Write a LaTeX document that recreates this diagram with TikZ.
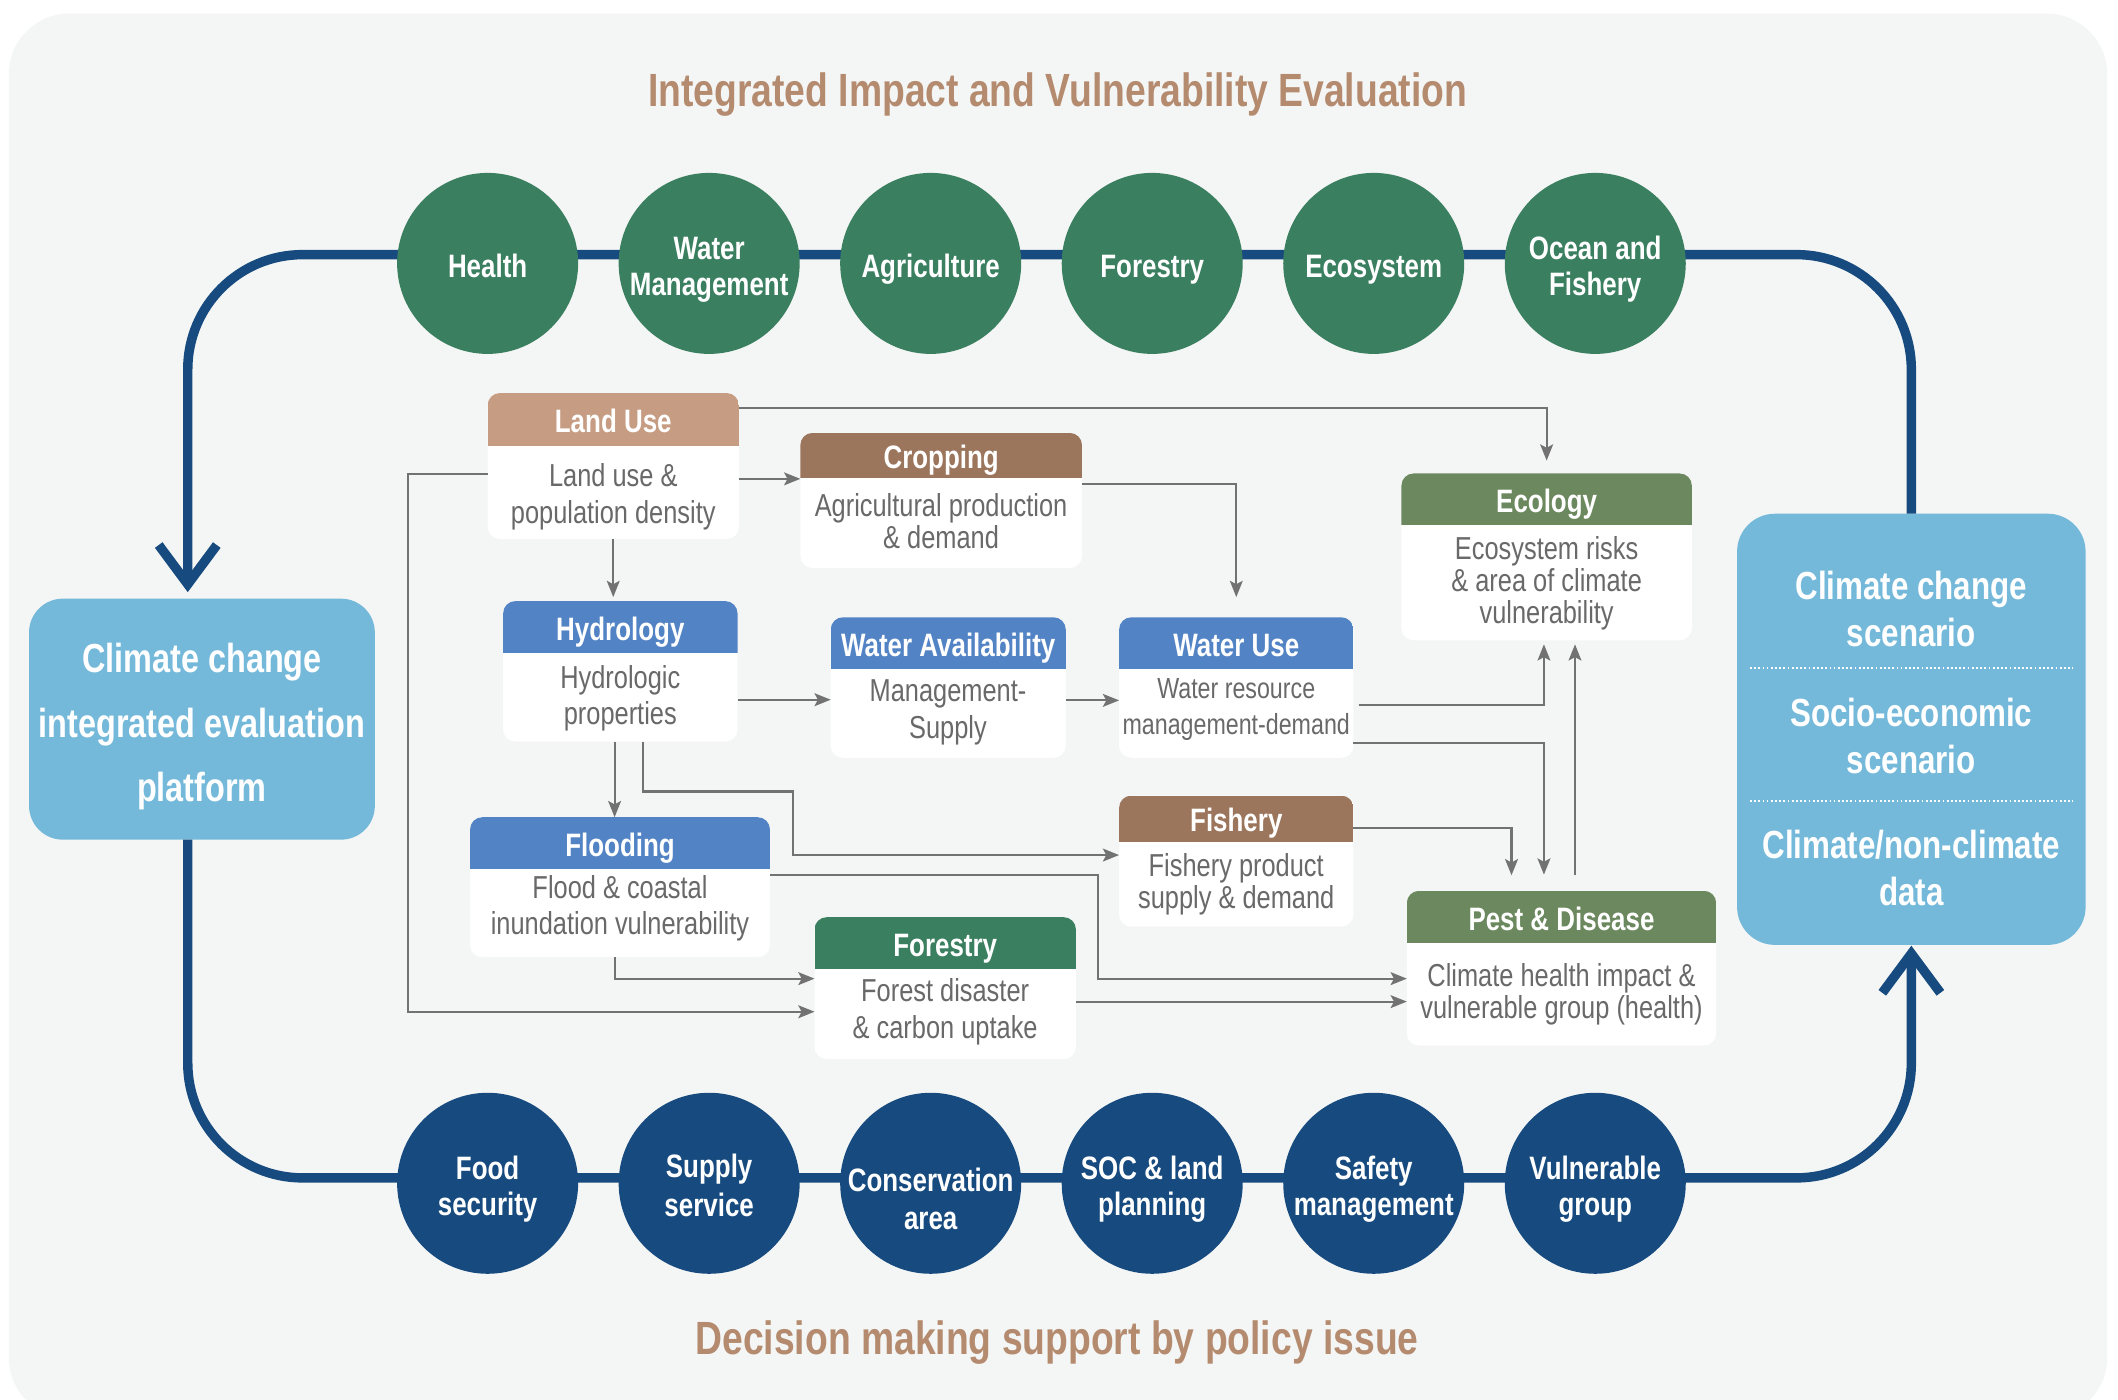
\documentclass[tikz,border=0pt]{standalone}
\usepackage{fontspec}
\setmainfont{Liberation Sans}[FakeStretch=0.8]
\usetikzlibrary{arrows.meta,calc}
\definecolor{bgc}{HTML}{F4F6F5}
\definecolor{navy}{HTML}{174A7E}
\definecolor{dgreen}{HTML}{3A7F60}
\definecolor{lblue}{HTML}{75B9DA}
\definecolor{landc}{HTML}{C69D83}
\definecolor{cropc}{HTML}{9B755C}
\definecolor{hydc}{HTML}{5283C4}
\definecolor{olivec}{HTML}{6C885E}
\definecolor{titlec}{HTML}{B58B6F}
\definecolor{txtgray}{HTML}{696969}
\definecolor{lngray}{HTML}{727272}
\newcommand\TopS{\rule{0pt}{0.8em}}
\newcommand\BotS{\rule[-0.25em]{0pt}{0.25em}}
\newcommand\fs[2]{\fontsize{#1}{#2}\selectfont}
\tikzset{
 txt/.style={inner sep=0pt, outer sep=0pt, align=center},
 headtext/.style={txt, text=white, font=\bfseries\fs{24}{26}},
 bodytext/.style={txt, text=txtgray},
 circtext/.style={txt, text=white},
 titletext/.style={txt, text=titlec, font=\bfseries\fs{34.5}{38}},
 boxbg/.style={fill=white, rounded corners=9pt, inner sep=0pt, outer sep=0pt, draw=none},
 topcirc/.style={circle, fill=dgreen, minimum size=134pt, inner sep=0pt, outer sep=0pt},
 botcirc/.style={circle, fill=navy, minimum size=134pt, inner sep=0pt, outer sep=0pt},
 loopline/.style={draw=navy, line width=7pt, rounded corners=85pt},
 chev/.style={draw=navy, line width=7pt, line join=miter},
 con/.style={draw=lngray, line width=1.6pt, -{Stealth[length=12pt,width=9.5pt,inset=2.5pt]}},
}
\newcommand\flowbox[8]{%
 \node[boxbg, minimum width={(#4-#2)*1pt}, minimum height={(#5-#3)*1pt}, anchor=north west] (#1) at (#2,#3) {};
 \begin{scope}
 \clip[rounded corners=9pt] (#2,#3) rectangle (#4,#5);
 \fill[#7] (#2,#3) rectangle (#4,#6);
 \end{scope}
 \node[headtext] (#1-t) at ({(#2+#4)/2},{(#3+#6)/2+3.2}) {\TopS #8\BotS};
}
\begin{document}
\begin{tikzpicture}[x=1pt,y=-1pt]
\useasboundingbox (0,0) rectangle (1568,1036.4);
\fill[white] (0,0) rectangle (1568,1036.4);
\fill[bgc, rounded corners=45pt] (6.5,10) rectangle (1560,1050);

% titles
\node[titletext] (ttop) at (783,69.5) {\TopS Integrated Impact and Vulnerability Evaluation\BotS};
\node[titletext] (tbot) at (782.5,993.5) {\TopS Decision making support by policy issue\BotS};

% side boxes
\node[fill=lblue, rounded corners=25pt, inner sep=0pt, outer sep=0pt, minimum width=256pt, minimum height=178.4pt, anchor=north west] (lbox) at (21.5,443.2) {};
\node[txt, text=white, font=\bfseries\fs{30}{47.6}] (lbox-t) at (149.5,537.5) {\TopS Climate change\\integrated evaluation\\platform\BotS};
\node[fill=lblue, rounded corners=28pt, inner sep=0pt, outer sep=0pt, minimum width=258pt, minimum height=319.2pt, anchor=north west] (rbox) at (1286,380.3) {};
\node[txt, text=white, font=\bfseries\fs{29}{35}] (rbox-a) at (1415,453) {\TopS Climate change\\scenario\BotS};
\node[txt, text=white, font=\bfseries\fs{29}{35}] (rbox-b) at (1415,547) {\TopS Socio-economic\\scenario\BotS};
\node[txt, text=white, font=\bfseries\fs{29}{35}] (rbox-c) at (1415,644.8) {\TopS Climate/non-climate\\data\BotS};
\draw[white, line width=1.3pt, dash pattern=on 1.3pt off 1.8pt] (1295.5,494.8) -- (1534.7,494.8);
\draw[white, line width=1.3pt, dash pattern=on 1.3pt off 1.8pt] (1295.5,593) -- (1534.7,593);

% loop
\coordinate (ltip) at (139,432.5);
\coordinate (rtip) at (1415,706);
\draw[loopline] (rbox.north) |- (ltip |- 0,188.5) -- (ltip);
\draw[loopline] (lbox.south -| ltip) |- (rtip |- 0,872) -- (rtip);
\draw[chev] ($(ltip)+(-21.5,-29)$) -- (ltip) -- ($(ltip)+(21.5,-29)$);
\draw[chev] ($(rtip)+(-21.5,29)$) -- (rtip) -- ($(rtip)+(21.5,29)$);

% top circles
\node[topcirc] (t1) at (361,195) {};
\node[topcirc] (t2) at (525,195) {};
\node[topcirc] (t3) at (689,195) {};
\node[topcirc] (t4) at (853,195) {};
\node[topcirc] (t5) at (1017,195) {};
\node[topcirc] (t6) at (1181,195) {};
\node[circtext, font=\bfseries\fs{24}{26}] (t1-t) at (361,198.7) {\TopS Health\BotS};
\node[circtext, font=\bfseries\fs{24}{26}] (t2-t) at (525,198.8) {\TopS Water\\Management\BotS};
\node[circtext, font=\bfseries\fs{24}{26}] (t3-t) at (689,198.7) {\TopS Agriculture\BotS};
\node[circtext, font=\bfseries\fs{24}{26}] (t4-t) at (853,198.7) {\TopS Forestry\BotS};
\node[circtext, font=\bfseries\fs{24}{26}] (t5-t) at (1017,198.7) {\TopS Ecosystem\BotS};
\node[circtext, font=\bfseries\fs{24}{26}] (t6-t) at (1181,198.8) {\TopS Ocean and\\Fishery\BotS};

% bottom circles
\node[botcirc] (b1) at (361,876) {};
\node[botcirc] (b2) at (525,876) {};
\node[botcirc] (b3) at (689,876) {};
\node[botcirc] (b4) at (853,876) {};
\node[botcirc] (b5) at (1017,876) {};
\node[botcirc] (b6) at (1181,876) {};
\node[circtext, font=\bfseries\fs{24}{26}] (b1-t) at (361,879.9) {\TopS Food\\security\BotS};
\node[circtext, font=\bfseries\fs{24}{29}] (b2-t) at (525,879.5) {\TopS Supply\\service\BotS};
\node[circtext, font=\bfseries\fs{24}{28.4}] (b3-t) at (689,889.7) {\TopS Conservation\\area\BotS};
\node[circtext, font=\bfseries\fs{24}{26}] (b4-t) at (853,879.9) {\TopS SOC \& land\\planning\BotS};
\node[circtext, font=\bfseries\fs{24}{26}] (b5-t) at (1017,879.9) {\TopS Safety\\management\BotS};
\node[circtext, font=\bfseries\fs{24}{26}] (b6-t) at (1181,879.9) {\TopS Vulnerable\\group\BotS};

% flow boxes
\flowbox{lu}{361}{291}{547}{399}{330}{landc}{Land Use}
\flowbox{crop}{592.5}{320.5}{801}{420.5}{353.5}{cropc}{Cropping}
\flowbox{hyd}{372.5}{445}{546}{549}{483.5}{hydc}{Hydrology}
\flowbox{wa}{615}{457}{789}{561}{495}{hydc}{Water Availability}
\flowbox{wu}{828.5}{457}{1002}{561}{495}{hydc}{Water Use}
\flowbox{eco}{1037.5}{350.5}{1252.5}{474}{388.5}{olivec}{Ecology}
\flowbox{flood}{348}{605}{570}{708.5}{643.5}{hydc}{Flooding}
\flowbox{forest}{603}{679}{796.5}{784}{717.5}{dgreen}{Forestry}
\flowbox{fish}{828.5}{589}{1002}{686}{623}{cropc}{Fishery}
\flowbox{pest}{1041.5}{659.5}{1270.5}{774}{698}{olivec}{Pest \& Disease}

\node[bodytext, font=\fs{23.5}{27.4}] (lu-b) at (454,367.2) {\TopS Land use \&\\population density\BotS};
\node[bodytext, font=\fs{23.5}{23.5}] (crop-b) at (696.7,387.7) {\TopS Agricultural production\\\& demand\BotS};
\node[bodytext, font=\fs{23.5}{27}] (hyd-b) at (459.2,516.5) {\TopS Hydrologic\\properties\BotS};
\node[bodytext, font=\fs{23.5}{27}] (wa-b) at (701.8,526.5) {\TopS Management-\\Supply\BotS};
\node[bodytext, font=\fs{21.5}{27}] (wu-b) at (915.2,524.5) {\TopS Water resource\\management-demand\BotS};
\node[bodytext, font=\fs{23.5}{23.5}] (eco-b) at (1145,431.5) {\TopS Ecosystem risks\\\& area of climate\\vulnerability\BotS};
\node[bodytext, font=\fs{23.5}{27}] (flood-b) at (459,672) {\TopS Flood \& coastal\\inundation vulnerability\BotS};
\node[bodytext, font=\fs{23.5}{23.4}] (fish-b) at (915.2,654.2) {\TopS Fishery product\\supply \& demand\BotS};
\node[bodytext, font=\fs{23.5}{27}] (forest-b) at (699.7,748.5) {\TopS Forest disaster\\\& carbon uptake\BotS};
\node[bodytext, font=\fs{23.5}{23.4}] (pest-b) at (1156,735.6) {\TopS Climate health impact \&\\vulnerable group (health)\BotS};

% connectors
\draw[con, shorten >=9.5pt] (lu.east |- 0,302.3) -| (eco.north);
\draw[con] (lu.east |- 0,354.5) -- (crop.west |- 0,354.5);
\draw[con] (lu.west |- 0,351) -- ++(-59,0) |- (forest.west |- 0,749);
\draw[con, shorten >=3pt] (lu.south) -- (lu.south |- hyd.north);
\draw[con, shorten >=15pt] (crop.east |- 0,358) -| (wu.north);
\draw[con] (hyd.east |- 0,518) -- (wa.west |- 0,518);
\draw[con] (wa.east |- 0,518.5) -- (wu.west |- 0,518.5);
\draw[con, shorten <=4pt, shorten >=3pt] (wu.east |- 0,522) -| (eco.south -| 1143,0);
\draw[con, shorten >=12pt] (wu.east |- 0,550) -| (pest.north -| 1143,0);
\draw[con, shorten <=11.5pt, shorten >=3pt] (pest.north -| 1166,0) -- (eco.south -| 1166,0);
\draw[con, shorten >=11.5pt] (fish.east |- 0,613) -| (pest.north -| 1119,0);
\draw[con] (hyd.south -| 455,0) -- (flood.north -| 455,0);
\draw[con] (hyd.south -| 476,0) |- (587,586) |- (fish.west |- 0,633);
\draw[con] (flood.east |- 0,648) -| (813,724.5) -- (pest.west |- 0,724.5);
\draw[con] (flood.south -| 455,0) |- (forest.west |- 0,724.5);
\draw[con] (forest.east |- 0,741.5) -- (pest.west |- 0,741.5);
\end{tikzpicture}
\end{document}
